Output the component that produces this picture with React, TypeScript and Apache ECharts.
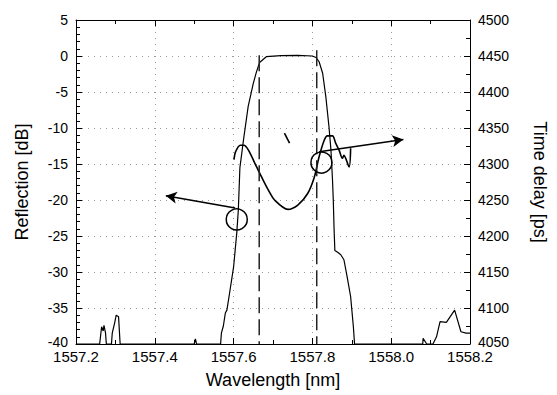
import React, { useEffect, useRef } from "react";
import * as echarts from "echarts";

// Wavelength [nm], Reflection [dB]
const reflection: [number, number][] = [
  [1557.2, -40], [1557.26, -40], [1557.265, -37.6], [1557.269, -38.2], [1557.271, -37.4],
  [1557.275, -38.5], [1557.277, -40], [1557.29, -40], [1557.292, -38.5], [1557.298, -37.1],
  [1557.302, -36], [1557.308, -36.2], [1557.312, -40], [1557.5, -40], [1557.503, -39.3],
  [1557.506, -40], [1557.567, -40], [1557.569, -38.5], [1557.574, -37.5], [1557.579, -35.7],
  [1557.583, -35.3], [1557.591, -32.5], [1557.6, -29.3], [1557.608, -24.6], [1557.612, -21.4],
  [1557.616, -15.5], [1557.625, -11.7], [1557.637, -7], [1557.65, -3.8], [1557.658, -2.2],
  [1557.666, -0.9], [1557.683, -0.1], [1557.72, 0.05], [1557.763, 0.1], [1557.8, 0],
  [1557.809, -0.2], [1557.817, -0.8], [1557.826, -2.4], [1557.834, -5.6], [1557.842, -9.8],
  [1557.847, -13], [1557.851, -17.2], [1557.853, -20], [1557.855, -24], [1557.857, -27],
  [1557.865, -27.3], [1557.872, -27.6], [1557.88, -28.3], [1557.888, -30.6], [1557.897, -33.4],
  [1557.904, -37.6], [1557.907, -40], [1558.08, -40], [1558.081, -39.2], [1558.09, -40],
  [1558.106, -40], [1558.115, -39], [1558.124, -36.9], [1558.14, -37], [1558.161, -35.3],
  [1558.177, -38.3], [1558.19, -38.5], [1558.2, -38.5],
];

// Wavelength [nm], Time delay [ps]
const timeDelay: [number, number][] = [
  [1557.601, 4306], [1557.605, 4317], [1557.617, 4326], [1557.626, 4326], [1557.638, 4319],
  [1557.654, 4301], [1557.671, 4282], [1557.688, 4264], [1557.704, 4250], [1557.738, 4237],
  [1557.763, 4243], [1557.788, 4259], [1557.805, 4282], [1557.817, 4310], [1557.83, 4333],
  [1557.838, 4339], [1557.851, 4339], [1557.859, 4329], [1557.868, 4319], [1557.876, 4308],
  [1557.88, 4312], [1557.893, 4296], [1557.897, 4322],
];
const timeDelayFragment: [number, number][] = [[1557.729, 4343], [1557.742, 4329]];

// dashed markers (band edges)
const edgeLeft: [number, number][] = [[1557.665, 0.1], [1557.665, -40]];
const edgeRight: [number, number][] = [[1557.811, 0.8], [1557.811, -40]];

// annotation circles and arrows (data coords on reflection axis)
const circleLeft: [number, number] = [1557.608, -22.7];
const circleRight: [number, number] = [1557.823, -14.8];
const arrowLeft: [number, number][] = [[1557.604, -21.1], [1557.428, -19.4]];
const arrowRight: [number, number][] = [[1557.817, -13.3], [1558.031, -11.6]];

const FONT = "'Liberation Sans', Arial, sans-serif";

export default function App() {
  const ref = useRef<HTMLDivElement>(null);
  useEffect(() => {
    if (!ref.current) return;
    const chart = echarts.init(ref.current, undefined, { renderer: "svg" });
    const black = "#000";
    const tickCommon = { show: true, inside: true, length: 6, lineStyle: { color: black, width: 1 } };
    const gridLine = { show: true, lineStyle: { color: "#999", type: [1, 5], width: 1 } };
    const lift = { low: { padding: [0, 0, 5, 0], fontSize: 14, fontFamily: FONT, color: black } };
    chart.setOption({
      animation: false,
      backgroundColor: "#fff",
      grid: { left: 76, right: 83, top: 20, bottom: 51, containLabel: false },
      xAxis: [
        {
          type: "value", min: 1557.2, max: 1558.2, interval: 0.2, position: "bottom",
          name: "Wavelength [nm]", nameLocation: "middle", nameGap: 27,
          nameTextStyle: { fontSize: 18, fontFamily: FONT, color: black },
          axisLine: { show: true, onZero: false, lineStyle: { color: black, width: 1 } },
          axisTick: tickCommon,
          minorTick: { show: true, splitNumber: 2, length: 4, lineStyle: { color: black } },
          axisLabel: { fontSize: 15, fontFamily: FONT, color: black, margin: 5, formatter: (v: number) => v.toFixed(1) },
          splitLine: gridLine,
        },
        {
          type: "value", min: 1557.2, max: 1558.2, interval: 0.2, position: "top",
          axisLine: { show: true, onZero: false, lineStyle: { color: black, width: 1 } },
          axisTick: tickCommon,
          minorTick: { show: true, splitNumber: 2, length: 4, lineStyle: { color: black } },
          axisLabel: { show: false },
          splitLine: { show: false },
        },
      ],
      yAxis: [
        {
          type: "value", min: -40, max: 5, interval: 5, position: "left",
          name: "Reflection [dB]", nameLocation: "middle", nameGap: 45,
          nameTextStyle: { fontSize: 18, fontFamily: FONT, color: black },
          axisLine: { show: true, onZero: false, lineStyle: { color: black, width: 1 } },
          axisTick: tickCommon,
          minorTick: { show: true, splitNumber: 5, length: 4, lineStyle: { color: black } },
          axisLabel: {
            fontSize: 14, fontFamily: FONT, color: black, margin: 8,
            formatter: (v: number) => (v === -40 ? `{low|${v}}` : `${v}`),
            rich: lift,
          },
          splitLine: gridLine,
        },
        {
          type: "value", min: 4050, max: 4500, interval: 50, position: "right",
          name: "Time delay [ps]", nameLocation: "middle", nameGap: 61, nameRotate: -90,
          nameTextStyle: { fontSize: 18, fontFamily: FONT, color: black },
          axisLine: { show: true, onZero: false, lineStyle: { color: black, width: 1 } },
          axisTick: tickCommon,
          minorTick: { show: true, splitNumber: 2, length: 4, lineStyle: { color: black } },
          axisLabel: {
            fontSize: 14, fontFamily: FONT, color: black, margin: 8,
            formatter: (v: number) => (v === 4050 ? `{low|${v}}` : `${v}`),
            rich: lift,
          },
          splitLine: { show: false },
        },
      ],
      series: [
        {
          name: "Reflection", type: "line", xAxisIndex: 0, yAxisIndex: 0, data: reflection,
          showSymbol: false, symbol: "none", silent: true,
          lineStyle: { color: black, width: 1.2 },
          markPoint: {
            silent: true, symbol: "circle", symbolSize: 21,
            itemStyle: { color: "rgba(0,0,0,0)", borderColor: black, borderWidth: 1.5 },
            label: { show: false },
            data: [{ coord: circleLeft }, { coord: circleRight }],
          },
          markLine: {
            silent: true, symbol: ["none", "arrow"], symbolSize: [9, 11],
            label: { show: false },
            lineStyle: { color: black, width: 1.5, type: "solid" },
            data: [
              [{ coord: arrowLeft[0] }, { coord: arrowLeft[1] }],
              [{ coord: arrowRight[0] }, { coord: arrowRight[1] }],
            ],
          },
        },
        {
          name: "Time delay", type: "line", xAxisIndex: 0, yAxisIndex: 1, data: timeDelay,
          showSymbol: false, symbol: "none", silent: true, smooth: 0.3,
          lineStyle: { color: black, width: 1.6 },
        },
        {
          name: "Time delay fragment", type: "line", xAxisIndex: 0, yAxisIndex: 1, data: timeDelayFragment,
          showSymbol: false, symbol: "none", silent: true,
          lineStyle: { color: black, width: 1.6 },
        },
        {
          name: "Edge left", type: "line", xAxisIndex: 0, yAxisIndex: 0, data: edgeLeft,
          showSymbol: false, symbol: "none", silent: true,
          lineStyle: { color: "#222", width: 1.5, type: [16, 6] },
        },
        {
          name: "Edge right", type: "line", xAxisIndex: 0, yAxisIndex: 0, data: edgeRight,
          showSymbol: false, symbol: "none", silent: true,
          lineStyle: { color: "#222", width: 1.5, type: [16, 6] },
        },
      ],
    });
    return () => chart.dispose();
  }, []);
  return <div ref={ref} style={{ position: "fixed", left: 0, top: 0, width: 557, height: 395 }} />;
}
